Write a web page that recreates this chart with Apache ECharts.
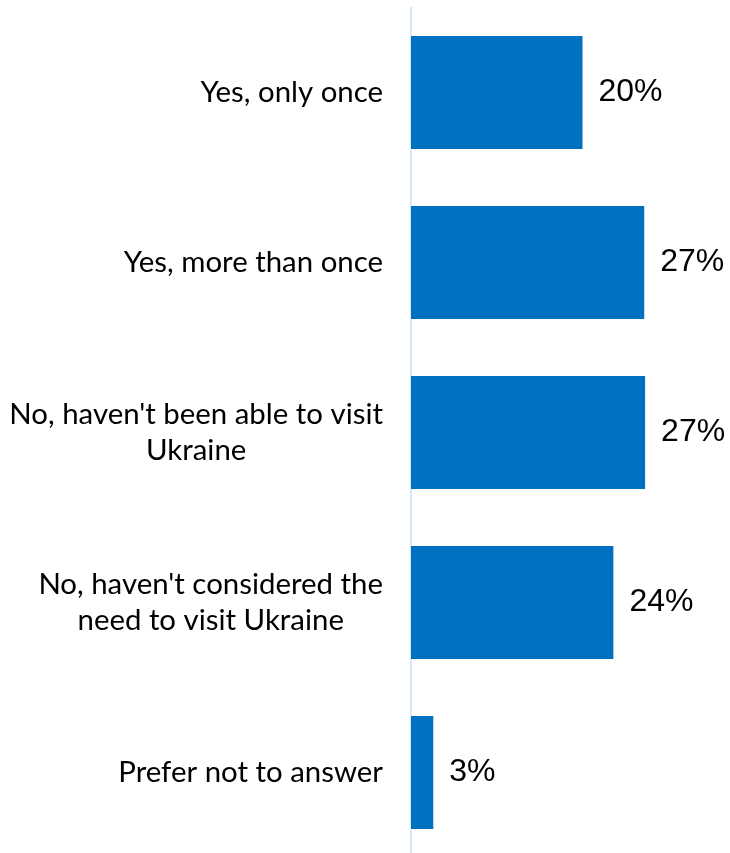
<!DOCTYPE html>
<html>
<head>
<meta charset="utf-8">
<script src="https://cdn.jsdelivr.net/npm/echarts@6/dist/echarts.min.js"></script>
<style>
html,body{margin:0;padding:0;background:#fff;overflow:hidden;}
#chart{width:730px;height:853px;}
</style>
</head>
<body>
<div id="chart"></div>
<script>
const categories = [
  "Yes, only once",
  "Yes, more than once",
  "No, haven't been able to visit\nUkraine",
  "No, haven't considered the\nneed to visit Ukraine",
  "Prefer not to answer"
];
const values = [20.0, 27.2, 27.3, 23.6, 2.6];

const chart = echarts.init(document.getElementById('chart'), null, {renderer: 'canvas'});
chart.setOption({
  animation: false,
  backgroundColor: '#ffffff',
  grid: {left: 411, width: 319, top: 7.5, height: 850, containLabel: false, outerBoundsMode: 'none'},
  xAxis: {
    type: 'value', min: 0, max: 37.2,
    show: false
  },
  yAxis: {
    type: 'category',
    data: categories,
    inverse: true,
    axisLine: {show: true, lineStyle: {color: '#CCE0F3', width: 1.5}},
    axisTick: {show: false},
    splitLine: {show: false},
    axisLabel: {
      margin: 28,
      formatter: function (v) {
        return v.split('\n').map(function (s) { return '{c|' + s + '}'; }).join('\n');
      },
      rich: {
        c: {align: 'center', fontFamily: 'Lato', fontSize: 29.4, lineHeight: 36, color: '#000000'}
      }
    }
  },
  series: [{
    type: 'bar',
    data: values,
    barCategoryGap: '33.5%',
    itemStyle: {color: '#0070C0'},
    label: {
      show: true,
      position: 'right',
      distance: 16,
      fontFamily: 'Liberation Sans',
      fontSize: 32,
      color: '#000000',
      formatter: function (p) { return Math.round(p.value) + '%'; }
    }
  }]
});
</script>
</body>
</html>
